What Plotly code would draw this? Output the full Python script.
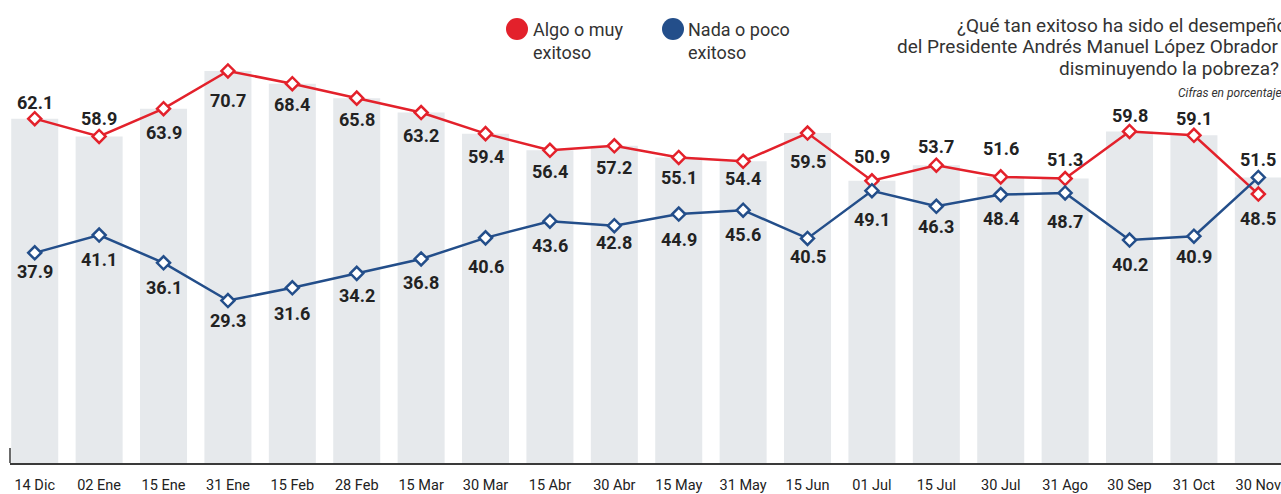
import plotly.graph_objects as go

categories = ["14 Dic", "02 Ene", "15 Ene", "31 Ene", "15 Feb", "28 Feb", "15 Mar", "30 Mar",
              "15 Abr", "30 Abr", "15 May", "31 May", "15 Jun", "01 Jul", "15 Jul", "30 Jul",
              "31 Ago", "30 Sep", "31 Oct", "30 Nov"]
algo_muy = [62.1, 58.9, 63.9, 70.7, 68.4, 65.8, 63.2, 59.4, 56.4, 57.2, 55.1, 54.4, 59.5,
            50.9, 53.7, 51.6, 51.3, 59.8, 59.1, 48.5]
nada_poco = [37.9, 41.1, 36.1, 29.3, 31.6, 34.2, 36.8, 40.6, 43.6, 42.8, 44.9, 45.6, 40.5,
             49.1, 46.3, 48.4, 48.7, 40.2, 40.9, 51.5]
bar_top = [62.1, 58.9, 63.9, 70.7, 68.4, 65.8, 63.2, 59.4, 56.4, 57.2, 55.1, 54.4, 59.5,
           50.9, 53.7, 51.6, 51.3, 59.8, 59.1, 51.5]

# label offsets in pixels (style only): + above the marker, - below
red_label_shift = [16, 18, -24, -30, -21, -21, -23, -23, -21, -22, -20, -17, -28,
                   24, 19, 28, 19, 16, 17, -24]
blue_label_shift = [-19, -24, -25, -20, -26, -22, -24, -29, -24, -17, -25, -24, -18,
                    -29, -20, -24, -29, -24, -20, 18]

RED = "#e3212b"
BLUE = "#234e8a"
BAR = "#e6e9ec"
TXT = "#222222"
TTL = "#333333"

W, H = 1281, 494
ML, MR, MT, MB = 10, 0, 20, 31
PW = W - ML - MR
PH = H - MT - MB


def xp(px):
    return (px - ML) / PW


def yp(py):
    return (H - MB - py) / PH


xs = list(range(len(categories)))

fig = go.Figure()
fig.add_trace(go.Bar(x=xs, y=bar_top, marker=dict(color=BAR, line=dict(width=0)),
                     width=0.73, hoverinfo="skip", showlegend=False))
for vals, col, nm in [(algo_muy, RED, "Algo o muy exitoso"), (nada_poco, BLUE, "Nada o poco exitoso")]:
    fig.add_trace(go.Scatter(
        x=xs, y=vals, mode="lines+markers",
        line=dict(color=col, width=2.5),
        marker=dict(symbol="diamond", size=10, color="white", line=dict(color=col, width=2.5)),
        cliponaxis=False, showlegend=False, name=nm))

annotations = []
for vals, shifts in [(algo_muy, red_label_shift), (nada_poco, blue_label_shift)]:
    for i, (v, s) in enumerate(zip(vals, shifts)):
        annotations.append(dict(
            x=i, y=v, xref="x", yref="y", text=f"{v:.1f}", showarrow=False,
            xanchor="center", yanchor="middle", yshift=s,
            font=dict(family="Roboto", size=18, color=TXT, weight="bold")))

x0 = -0.384
x1 = x0 + PW / 64.4
fig.update_xaxes(range=[x0, x1], tickmode="array", tickvals=xs, ticktext=categories,
                 showgrid=False, zeroline=False, showline=True, linecolor="#3a3a3a",
                 linewidth=1.5, ticks="", ticklabelstandoff=8, ticklabeloverflow="allow",
                 tickfont=dict(family="Roboto", size=14.5, color=TXT))
fig.update_yaxes(range=[0, PH / 5.545], visible=False, showgrid=False, zeroline=False)

shapes = [
    dict(type="line", xref="paper", yref="y", x0=0, x1=0, y0=0, y1=2.7,
         line=dict(color="#3a3a3a", width=1.5)),
]
for cx, col in [(517, RED), (673, BLUE)]:
    shapes.append(dict(type="circle", xref="paper", yref="paper",
                       x0=xp(cx - 11), x1=xp(cx + 11), y0=yp(29 + 11), y1=yp(29 - 11),
                       fillcolor=col, line=dict(width=0)))

for lx, t in [(531, "Algo o muy<br>exitoso"), (686, "Nada o poco<br>exitoso")]:
    annotations.append(dict(xref="paper", yref="paper", x=xp(lx), y=yp(41), xanchor="left",
                            yanchor="middle", text=t, showarrow=False, align="left",
                            font=dict(family="Roboto", size=18, color=TTL)))

title_lines = [(25, 1289, "¿Qué tan exitoso ha sido el desempeño"),
               (47, 1281, "del Presidente Andrés Manuel López Obrador"),
               (68, 1281, "disminuyendo la pobreza?")]
for ly, rx, t in title_lines:
    annotations.append(dict(xref="paper", yref="paper", x=xp(rx), y=yp(ly), xanchor="right",
                            yanchor="middle", text=t, showarrow=False,
                            font=dict(family="Roboto", size=19, color=TTL)))
annotations.append(dict(xref="paper", yref="paper", x=xp(1284), y=yp(93), xanchor="right",
                        yanchor="middle", text="<i>Cifras en porcentaje</i>", showarrow=False,
                        font=dict(family="Roboto", size=12, color=TTL)))

fig.update_layout(
    width=W, height=H, margin=dict(l=ML, r=MR, t=MT, b=MB),
    paper_bgcolor="white", plot_bgcolor="white", bargap=0.27,
    shapes=shapes, annotations=annotations, hovermode=False,
)

fig.write_html("out.html", config={"displayModeBar": False},
               post_script="document.body.style.margin='0px';document.body.style.padding='0px';")
